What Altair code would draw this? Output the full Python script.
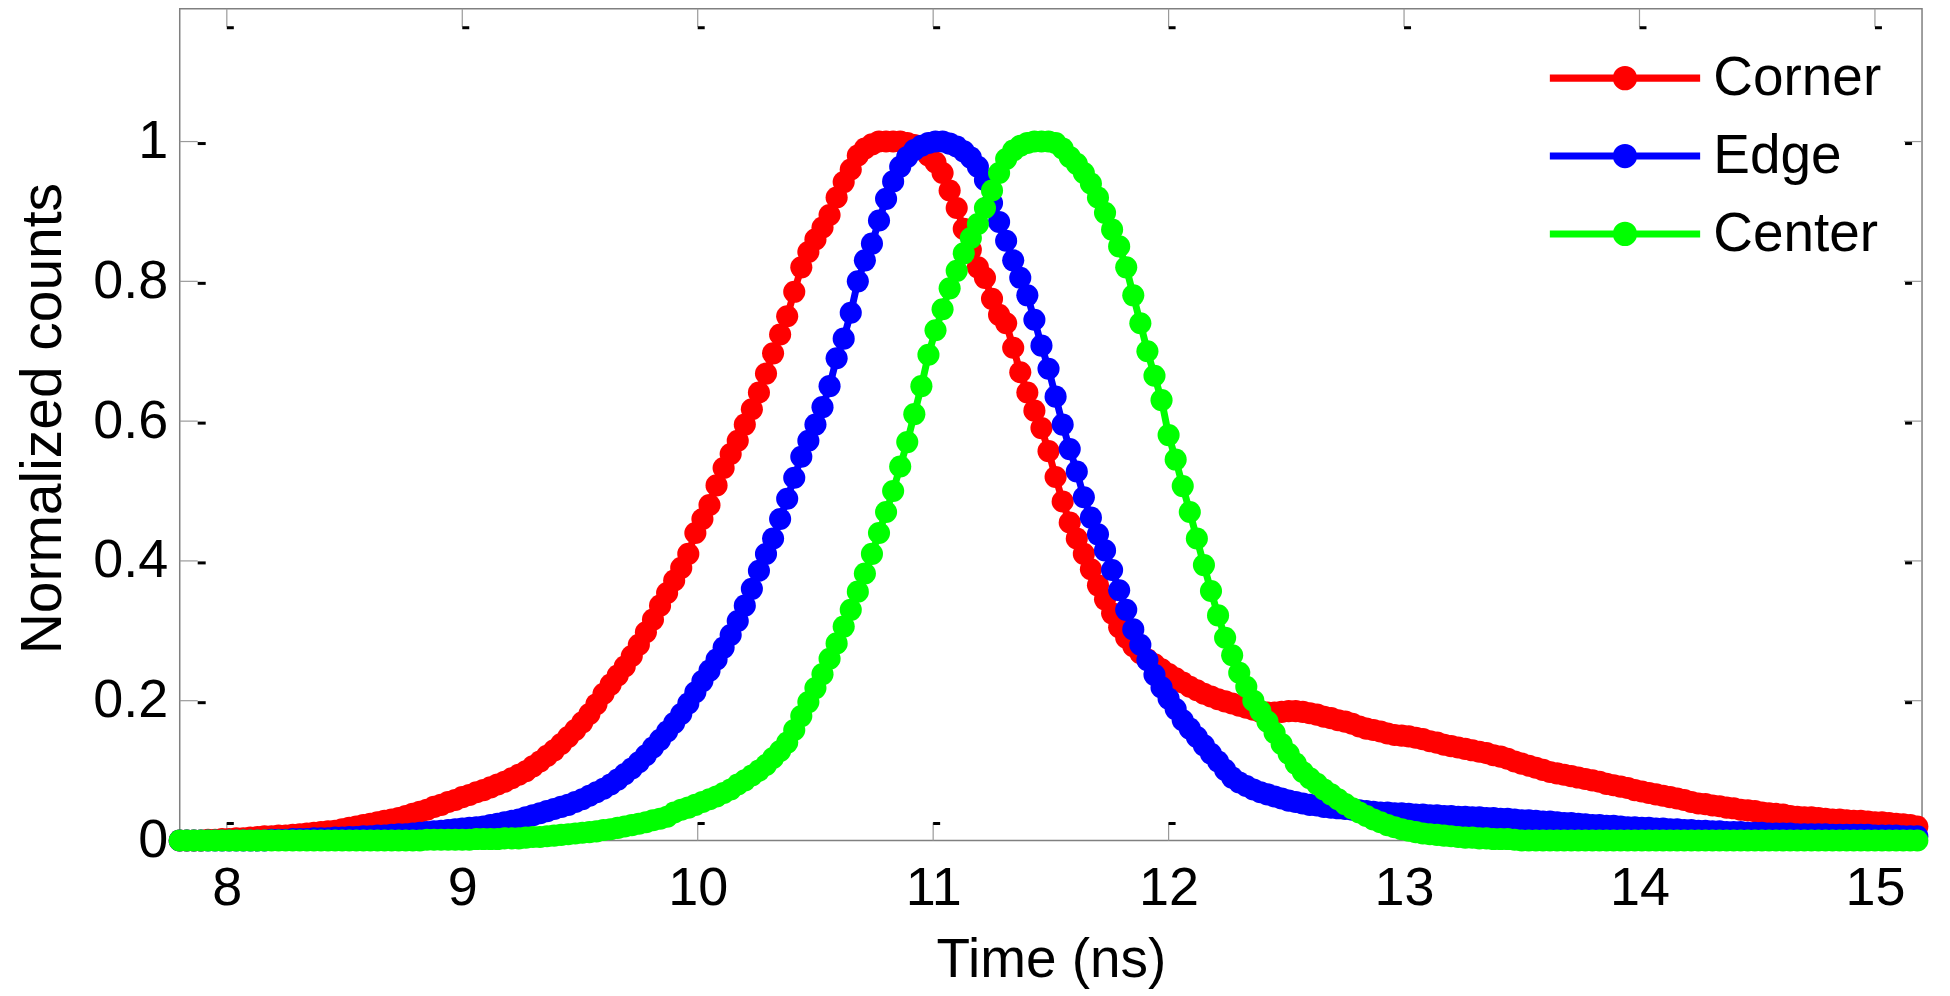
import altair as alt
import pandas as pd

# ---------------- data ----------------
T_START = 7.8     # first time bin (ns)
T_STEP = 0.03     # bin width (ns)

series_names = ["Corner", "Edge", "Center"]
series_colors = ["#ff0000", "#0000ff", "#00ff00"]

corner = [
    0.000, 0.000, 0.000, 0.000, 0.001, 0.001, 0.002, 0.002, 0.003, 0.003,
    0.004, 0.005, 0.006, 0.006, 0.007, 0.007, 0.008, 0.009, 0.010, 0.011,
    0.012, 0.013, 0.014, 0.016, 0.018, 0.020, 0.022, 0.024, 0.026, 0.028,
    0.030, 0.032, 0.035, 0.038, 0.041, 0.044, 0.048, 0.051, 0.055, 0.058,
    0.062, 0.065, 0.069, 0.072, 0.076, 0.080, 0.084, 0.089, 0.094, 0.099,
    0.106, 0.113, 0.121, 0.129, 0.138, 0.148, 0.158, 0.169, 0.181, 0.195,
    0.210, 0.223, 0.236, 0.249, 0.264, 0.280, 0.298, 0.316, 0.336, 0.354,
    0.372, 0.390, 0.410, 0.440, 0.460, 0.480, 0.508, 0.533, 0.553, 0.572,
    0.595, 0.617, 0.641, 0.668, 0.697, 0.724, 0.750, 0.785, 0.820, 0.842,
    0.860, 0.877, 0.895, 0.920, 0.942, 0.960, 0.980, 0.990, 0.996, 1.000,
    1.000, 1.000, 1.000, 0.998, 0.995, 0.990, 0.980, 0.970, 0.955, 0.930,
    0.905, 0.875, 0.845, 0.820, 0.805, 0.775, 0.752, 0.740, 0.705, 0.670,
    0.641, 0.615, 0.590, 0.557, 0.520, 0.485, 0.455, 0.432, 0.410, 0.388,
    0.365, 0.345, 0.325, 0.305, 0.290, 0.278, 0.268, 0.259, 0.252, 0.245,
    0.238, 0.232, 0.226, 0.220, 0.215, 0.210, 0.206, 0.202, 0.199, 0.196,
    0.193, 0.190, 0.187, 0.184, 0.183, 0.183, 0.184, 0.185, 0.185, 0.184,
    0.182, 0.180, 0.177, 0.175, 0.172, 0.170, 0.167, 0.163, 0.160, 0.158,
    0.156, 0.153, 0.151, 0.150, 0.149, 0.147, 0.145, 0.142, 0.140, 0.137,
    0.135, 0.133, 0.131, 0.129, 0.127, 0.125, 0.122, 0.120, 0.117, 0.113,
    0.110, 0.107, 0.104, 0.101, 0.098, 0.096, 0.094, 0.092, 0.090, 0.088,
    0.086, 0.084, 0.081, 0.079, 0.077, 0.075, 0.072, 0.070, 0.068, 0.066,
    0.064, 0.062, 0.060, 0.058, 0.055, 0.053, 0.052, 0.050, 0.049, 0.047,
    0.046, 0.044, 0.043, 0.042, 0.040, 0.039, 0.038, 0.037, 0.035, 0.034,
    0.033, 0.033, 0.032, 0.031, 0.030, 0.030, 0.029, 0.028, 0.028, 0.027,
    0.026, 0.026, 0.025, 0.024, 0.023, 0.022, 0.020,
]

edge = [
    0.000, 0.000, 0.000, 0.000, 0.000, 0.000, 0.000, 0.000, 0.000, 0.000,
    0.000, 0.000, 0.000, 0.001, 0.001, 0.001, 0.002, 0.002, 0.002, 0.003,
    0.003, 0.003, 0.004, 0.004, 0.005, 0.005, 0.006, 0.006, 0.007, 0.007,
    0.008, 0.009, 0.009, 0.010, 0.011, 0.012, 0.013, 0.014, 0.015, 0.016,
    0.017, 0.018, 0.019, 0.020, 0.022, 0.024, 0.026, 0.028, 0.030, 0.033,
    0.036, 0.039, 0.042, 0.045, 0.048, 0.051, 0.055, 0.059, 0.064, 0.069,
    0.074, 0.080, 0.087, 0.095, 0.103, 0.112, 0.122, 0.133, 0.144, 0.156,
    0.168, 0.181, 0.196, 0.212, 0.228, 0.243, 0.259, 0.276, 0.294, 0.314,
    0.336, 0.360, 0.386, 0.410, 0.432, 0.460, 0.489, 0.519, 0.549, 0.572,
    0.595, 0.620, 0.650, 0.690, 0.718, 0.755, 0.800, 0.830, 0.854, 0.887,
    0.918, 0.943, 0.964, 0.978, 0.988, 0.994, 0.998, 1.000, 1.000, 0.997,
    0.993, 0.986, 0.977, 0.964, 0.945, 0.912, 0.885, 0.858, 0.830, 0.805,
    0.780, 0.745, 0.708, 0.675, 0.635, 0.595, 0.560, 0.528, 0.491, 0.462,
    0.438, 0.415, 0.387, 0.358, 0.330, 0.302, 0.280, 0.258, 0.237, 0.219,
    0.203, 0.188, 0.172, 0.160, 0.148, 0.136, 0.124, 0.113, 0.101, 0.090,
    0.083, 0.078, 0.073, 0.069, 0.066, 0.063, 0.060, 0.057, 0.055, 0.053,
    0.051, 0.050, 0.048, 0.047, 0.046, 0.045, 0.044, 0.043, 0.042, 0.041,
    0.040, 0.040, 0.039, 0.039, 0.038, 0.037, 0.037, 0.036, 0.036, 0.035,
    0.035, 0.034, 0.034, 0.033, 0.033, 0.032, 0.032, 0.031, 0.031, 0.030,
    0.029, 0.029, 0.028, 0.027, 0.027, 0.026, 0.025, 0.025, 0.024, 0.023,
    0.022, 0.022, 0.021, 0.021, 0.020, 0.019, 0.019, 0.018, 0.018, 0.017,
    0.017, 0.016, 0.016, 0.015, 0.015, 0.014, 0.014, 0.013, 0.013, 0.012,
    0.012, 0.012, 0.011, 0.011, 0.011, 0.010, 0.010, 0.010, 0.010, 0.009,
    0.009, 0.009, 0.009, 0.009, 0.008, 0.008, 0.008, 0.008, 0.008, 0.008,
    0.007, 0.007, 0.007, 0.007, 0.006, 0.006, 0.006,
]

center = [
    0.000, 0.000, 0.000, 0.000, 0.000, 0.000, 0.000, 0.000, 0.000, 0.000,
    0.000, 0.000, 0.000, 0.000, 0.000, 0.000, 0.000, 0.000, 0.000, 0.000,
    0.000, 0.000, 0.000, 0.000, 0.000, 0.000, 0.000, 0.000, 0.000, 0.000,
    0.000, 0.000, 0.000, 0.000, 0.000, 0.001, 0.001, 0.001, 0.001, 0.001,
    0.001, 0.001, 0.002, 0.002, 0.002, 0.002, 0.003, 0.003, 0.003, 0.004,
    0.005, 0.005, 0.006, 0.007, 0.008, 0.009, 0.010, 0.011, 0.012, 0.013,
    0.015, 0.016, 0.018, 0.020, 0.022, 0.024, 0.026, 0.029, 0.031, 0.034,
    0.040, 0.044, 0.047, 0.051, 0.055, 0.059, 0.063, 0.068, 0.073, 0.080,
    0.086, 0.093, 0.100, 0.108, 0.118, 0.128, 0.140, 0.158, 0.178, 0.198,
    0.218, 0.238, 0.260, 0.282, 0.306, 0.330, 0.356, 0.382, 0.410, 0.440,
    0.470, 0.500, 0.535, 0.570, 0.610, 0.650, 0.695, 0.730, 0.760, 0.790,
    0.815, 0.840, 0.862, 0.882, 0.905, 0.930, 0.955, 0.975, 0.987, 0.994,
    0.998, 1.000, 1.000, 1.000, 0.998, 0.990, 0.978, 0.968, 0.955, 0.940,
    0.920, 0.898, 0.874, 0.850, 0.820, 0.780, 0.740, 0.700, 0.665, 0.630,
    0.580, 0.545, 0.507, 0.470, 0.432, 0.394, 0.357, 0.322, 0.290, 0.265,
    0.240, 0.220, 0.200, 0.185, 0.170, 0.154, 0.138, 0.124, 0.110, 0.098,
    0.089, 0.081, 0.073, 0.066, 0.059, 0.052, 0.046, 0.040, 0.035, 0.030,
    0.026, 0.022, 0.019, 0.016, 0.014, 0.012, 0.010, 0.009, 0.008, 0.007,
    0.006, 0.005, 0.004, 0.004, 0.003, 0.003, 0.002, 0.002, 0.002, 0.001,
    0.000, 0.000, 0.000, 0.000, 0.000, 0.000, 0.000, 0.000, 0.000, 0.000,
    0.000, 0.000, 0.000, 0.000, 0.000, 0.000, 0.000, 0.000, 0.000, 0.000,
    0.000, 0.000, 0.000, 0.000, 0.000, 0.000, 0.000, 0.000, 0.000, 0.000,
    0.000, 0.000, 0.000, 0.000, 0.000, 0.000, 0.000, 0.000, 0.000, 0.000,
    0.000, 0.000, 0.000, 0.000, 0.000, 0.000, 0.000, 0.000, 0.000, 0.000,
    0.000, 0.000, 0.000, 0.000, 0.000, 0.000, 0.000,
]

x_ticks = [8, 9, 10, 11, 12, 13, 14, 15]
y_ticks = [0, 0.2, 0.4, 0.6, 0.8, 1.0]
x_domain = [7.8, 15.2]
y_domain = [0, 1.19]

# ---------------- build table ----------------
rows = []
for name, vals in zip(series_names, [corner, edge, center]):
    for i, v in enumerate(vals):
        rows.append({"t": round(T_START + T_STEP * i, 3), "v": v, "s": name})
df = pd.DataFrame(rows)
xt_df = pd.DataFrame({"t": x_ticks})
yt_df = pd.DataFrame({"v": y_ticks})

# ---------------- style ----------------
W, H = 1745, 833
FONT = "Liberation Sans"
TICK_GRAY = "#9a9a9a"
TL = 18  # tick length

xs = alt.Scale(domain=x_domain, nice=False, zero=False)
ys = alt.Scale(domain=y_domain, nice=False, zero=False)

x_axis = alt.Axis(values=x_ticks, format="d", title="Time (ns)",
                  labelFontSize=54, titleFontSize=55, labelPadding=21,
                  ticks=False, tickSize=0, domain=False, grid=False,
                  labelColor="black", titleColor="black", titleFontWeight="normal",
                  titleX=W / 2, titleY=93, titleBaseline="top",
                  labelFlush=False, labelOverlap=False, labelFont=FONT, titleFont=FONT)
y_axis = alt.Axis(values=y_ticks, format=".1~f", title="Normalized counts",
                  labelFontSize=54, titleFontSize=57, labelPadding=12,
                  ticks=False, tickSize=0, domain=False, grid=False,
                  labelColor="black", titleColor="black", titleFontWeight="normal",
                  titleX=-119, titleY=410, titleAngle=270, titleBaseline="alphabetic",
                  titleAlign="center", labelFlush=False, labelOverlap=False,
                  labelFont=FONT, titleFont=FONT)

X = lambda: alt.X("t:Q", scale=xs, axis=x_axis)
Y = lambda: alt.Y("v:Q", scale=ys, axis=y_axis)

# inward ticks (MATLAB-style box)
bottom_g = alt.Chart(xt_df).mark_rule(color=TICK_GRAY, strokeWidth=1.2).encode(
    x=X(), y=alt.value(H), y2=alt.value(H - TL))
bottom_k = alt.Chart(xt_df).mark_rule(color="black", strokeWidth=3, x2Offset=7).encode(
    x=X(), x2=alt.X2("t"), y=alt.value(H - TL + 1))
top_g = alt.Chart(xt_df).mark_rule(color=TICK_GRAY, strokeWidth=1.2).encode(
    x=X(), y=alt.value(0), y2=alt.value(TL))
top_k = alt.Chart(xt_df).mark_rule(color="black", strokeWidth=3, x2Offset=7).encode(
    x=X(), x2=alt.X2("t"), y=alt.value(TL + 1))
left_g = alt.Chart(yt_df).mark_rule(color=TICK_GRAY, strokeWidth=1.2).encode(
    y=Y(), x=alt.value(0), x2=alt.value(TL))
left_k = alt.Chart(yt_df).mark_rule(color="black", strokeWidth=3, yOffset=2).encode(
    y=Y(), x=alt.value(TL), x2=alt.value(TL + 8))
right_g = alt.Chart(yt_df).mark_rule(color=TICK_GRAY, strokeWidth=1.2).encode(
    y=Y(), x=alt.value(W - TL), x2=alt.value(W))
right_k = alt.Chart(yt_df).mark_rule(color="black", strokeWidth=3, yOffset=2).encode(
    y=Y(), x=alt.value(W - TL + 1), x2=alt.value(W - TL + 8))

color_scale = alt.Scale(domain=series_names, range=series_colors)

# legend symbol: a line with a dot on it
LEG_PATH = "M-6.8,-0.32H6.8V0.32H-6.8Z M0,-1.1A1.1,1.1 0 1,1 0,1.1A1.1,1.1 0 1,1 0,-1.1Z"

lines = alt.Chart(df).mark_line(strokeWidth=7).encode(
    x=X(), y=Y(),
    color=alt.Color("s:N", scale=color_scale, legend=None, sort=series_names),
    detail="s:N",
)
points = alt.Chart(df).mark_point(filled=True, size=490, opacity=1, strokeWidth=0).encode(
    x=X(), y=Y(),
    color=alt.Color("s:N", scale=color_scale, sort=series_names,
                    legend=alt.Legend(title=None, orient="none", legendX=1420, legendY=42,
                                      symbolType=LEG_PATH, symbolSize=490,
                                      symbolStrokeWidth=0, symbolOpacity=1,
                                      labelFontSize=55, labelFont=FONT, labelColor="black",
                                      labelLimit=600,
                                      labelOffset=61, rowPadding=22, padding=0)),
)

chart = alt.layer(
    bottom_g, bottom_k, top_g, top_k, left_g, left_k, right_g, right_k,
    lines, points,
).resolve_legend(color="independent").properties(
    width=W, height=H,
    autosize=alt.AutoSizeParams(type="none"),
    padding={"left": 172, "top": 0, "right": 20, "bottom": 150},
    background="white",
).configure(font=FONT).configure_view(stroke="#808080", strokeWidth=1.5)

chart.save("out.html", embed_options={"renderer": "svg", "actions": False})
